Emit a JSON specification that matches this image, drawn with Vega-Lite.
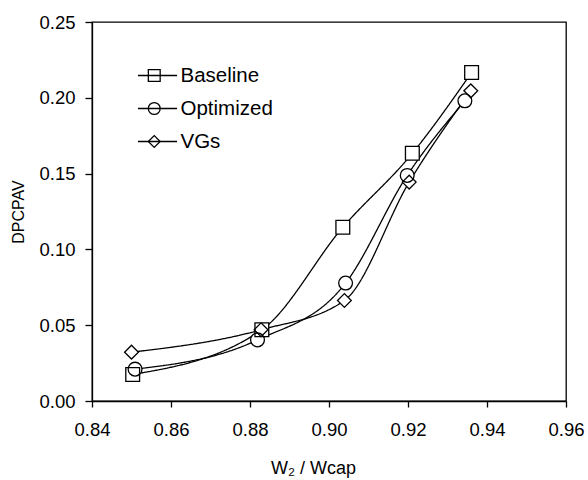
{
  "$schema": "https://vega.github.io/schema/vega-lite/v6.json",
  "width": 474,
  "height": 379,
  "autosize": {"type": "none"},
  "padding": {"left": 92, "top": 22, "right": 22, "bottom": 79},
  "background": "white",
  "config": {
    "font": "Liberation Sans",
    "view": {"stroke": "black", "strokeWidth": 1.3},
    "axis": {
      "grid": false,
      "labelFlush": false,
      "domainColor": "black",
      "domainWidth": 1.3,
      "tickColor": "black",
      "tickWidth": 1.3,
      "labelColor": "black",
      "labelFontSize": 18.5,
      "labelFont": "Liberation Sans",
      "titleFont": "Liberation Sans",
      "titleColor": "black",
      "titleFontWeight": "normal"
    }
  },
  "data": {
    "values": [
      {"series": "Baseline", "x": 0.8503, "y": 0.0175},
      {"series": "Baseline", "x": 0.8830, "y": 0.0470},
      {"series": "Baseline", "x": 0.9035, "y": 0.1146},
      {"series": "Baseline", "x": 0.9211, "y": 0.1634},
      {"series": "Baseline", "x": 0.9361, "y": 0.2167},
      {"series": "Optimized", "x": 0.8509, "y": 0.0210},
      {"series": "Optimized", "x": 0.8819, "y": 0.0403},
      {"series": "Optimized", "x": 0.9042, "y": 0.0778},
      {"series": "Optimized", "x": 0.9198, "y": 0.1488},
      {"series": "Optimized", "x": 0.9344, "y": 0.1980},
      {"series": "VGs", "x": 0.8500, "y": 0.0322},
      {"series": "VGs", "x": 0.8828, "y": 0.0470},
      {"series": "VGs", "x": 0.9039, "y": 0.0663},
      {"series": "VGs", "x": 0.9203, "y": 0.1444},
      {"series": "VGs", "x": 0.9359, "y": 0.2046}
    ]
  },
  "encoding": {
    "x": {
      "field": "x",
      "type": "quantitative",
      "scale": {"domain": [0.84, 0.96], "nice": false, "zero": false},
      "axis": {
        "values": [0.84, 0.86, 0.88, 0.90, 0.92, 0.94, 0.96],
        "format": ".2f",
        "tickSize": 6,
        "labelPadding": 13,
        "title": "W₂ / Wcap",
        "titleFontSize": 18,
        "titlePadding": 21,
        "titleX": 221
      }
    },
    "y": {
      "field": "y",
      "type": "quantitative",
      "scale": {"domain": [0, 0.25], "nice": false, "zero": false},
      "axis": {
        "values": [0, 0.05, 0.10, 0.15, 0.20, 0.25],
        "format": ".2f",
        "tickSize": 7,
        "labelPadding": 10,
        "title": "DPCPAV",
        "titleFontSize": 16,
        "titlePadding": 12
      }
    }
  },
  "resolve": {"scale": {"shape": "independent"}, "legend": {"shape": "independent"}},
  "layer": [
    {
      "mark": {"type": "line", "interpolate": "monotone", "color": "black", "strokeWidth": 1.3},
      "encoding": {
        "strokeDash": {
          "field": "series",
          "type": "nominal",
          "scale": {"domain": ["VGs", "Optimized", "Baseline"], "range": [[1, 0], [1, 0], [1, 0]]},
          "legend": {
            "title": null,
            "orient": "none",
            "legendX": 45,
            "legendY": 37,
            "symbolType": "stroke",
            "symbolSize": 1521,
            "clipHeight": 33,
            "rowPadding": 0,
            "labelFontSize": 20.5,
            "labelExpr": "''",
            "symbolStrokeColor": "black",
            "symbolStrokeWidth": 1.3
          }
        }
      }
    },
    {
      "mark": {"type": "point", "filled": true, "color": "white", "size": 190, "opacity": 1},
      "encoding": {
        "shape": {
          "field": "series",
          "type": "nominal",
          "scale": {"domain": ["Baseline", "Optimized", "VGs"], "range": ["square", "circle", "diamond"]},
          "legend": null
        }
      }
    },
    {
      "mark": {"type": "point", "filled": false, "color": "black", "strokeWidth": 1.3, "size": 190, "opacity": 1},
      "encoding": {
        "shape": {
          "field": "series",
          "type": "nominal",
          "scale": {"domain": ["Baseline", "Optimized", "VGs"], "range": ["square", "circle", "diamond"]},
          "legend": {
            "title": null,
            "orient": "none",
            "legendX": 52,
            "legendY": 37,
            "symbolSize": 140,
            "clipHeight": 33,
            "rowPadding": 0,
            "labelFontSize": 20.5,
            "labelFont": "Liberation Sans",
            "labelColor": "black",
            "labelOffset": 16,
            "symbolStrokeWidth": 1.3
          }
        }
      }
    }
  ]
}
